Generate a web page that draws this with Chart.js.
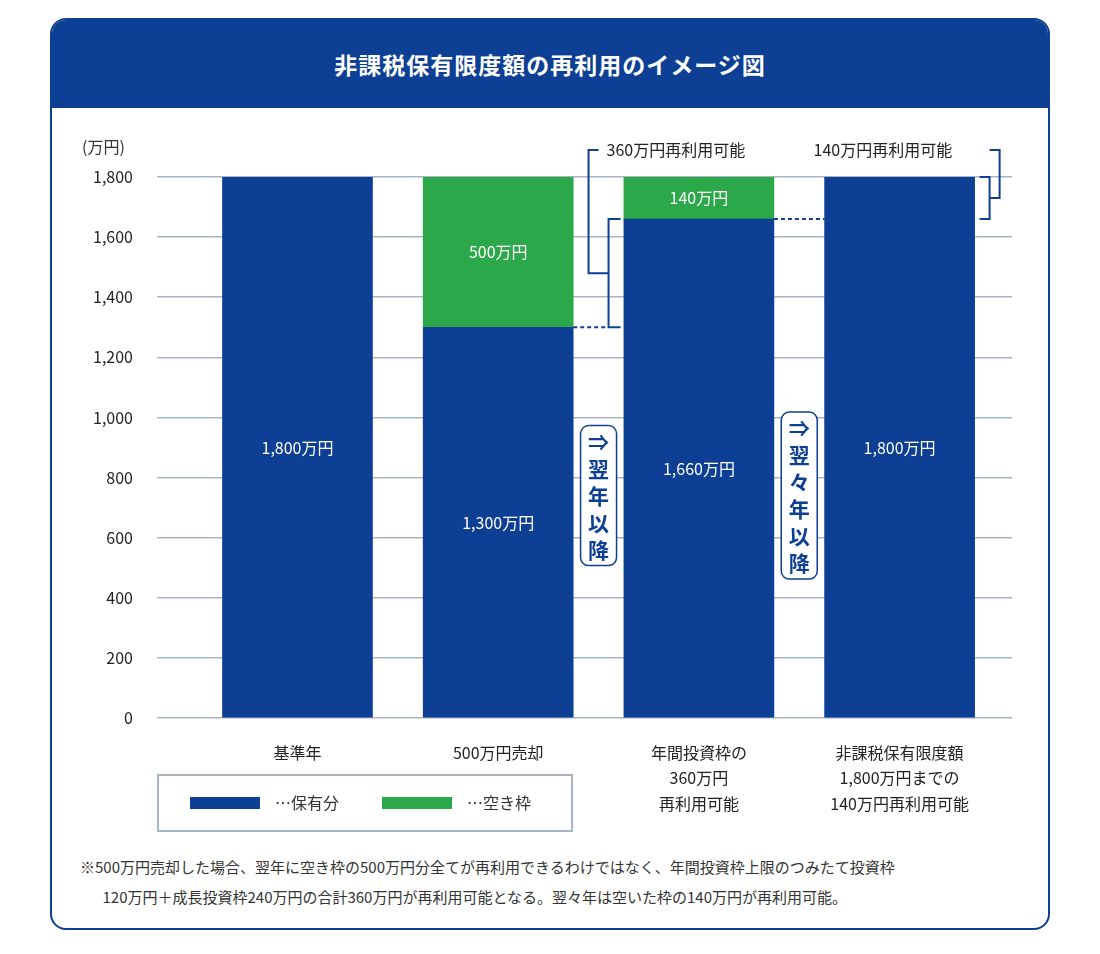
<!DOCTYPE html>
<html>
<head>
<meta charset="utf-8">
<style>
  body { margin:0; background:#fff; font-family:"Noto Sans CJK JP","Noto Sans",sans-serif; color:#333; }
  #card { position:absolute; left:50px; top:18px; width:996px; height:908px; border:2px solid #0d3f94; border-radius:16px; overflow:hidden; }
  #head { height:88px; background:#0d3f94; color:#fff; font-weight:bold; font-size:23px; text-align:center; line-height:88px; letter-spacing:1px; }
  #wrap { position:absolute; left:0; top:88px; width:1000px; height:730px; }
  #legend { position:absolute; left:105px; top:754px; width:412px; height:54px; border:2px solid #a9b3c6; font-size:16px; }
  .sw { position:absolute; top:21px; width:70px; height:12px; }
  .lt { position:absolute; top:14px; }
  #note { position:absolute; left:28px; top:832px; font-size:15px; line-height:30px; }
</style>
<script src="https://cdn.jsdelivr.net/npm/chart.js"></script>
</head>
<body>
<div id="card">
  <div id="head">非課税保有限度額の再利用のイメージ図</div>
  <div id="wrap"><canvas id="c" width="1000" height="730"></canvas></div>
  <div id="legend">
    <div class="sw" style="left:31px;background:#0d3f94"></div><div class="lt" style="left:116px">…保有分</div>
    <div class="sw" style="left:223px;background:#2ba84a"></div><div class="lt" style="left:308px">…空き枠</div>
  </div>
  <div id="note">※500万円売却した場合、翌年に空き枠の500万円分全てが再利用できるわけではなく、年間投資枠上限のつみたて投資枠<br>&emsp;&ensp;120万円＋成長投資枠240万円の合計360万円が再利用可能となる。翌々年は空いた枠の140万円が再利用可能。</div>
</div>
<script>
const categories = [['基準年'], ['500万円売却'], ['年間投資枠の', '360万円', '再利用可能'], ['非課税保有限度額', '1,800万円までの', '140万円再利用可能']];
const held = [1800, 1300, 1660, 1800];
const free = [0, 500, 140, 0];
const yTicks = [0, 200, 400, 600, 800, 1000, 1200, 1400, 1600, 1800];

const BLUE = '#0d3f94', GREEN = '#2ba84a', FONT = '"Noto Sans CJK JP","Noto Sans",sans-serif';

const extras = {
  id: 'extras',
  afterDatasetsDraw(chart) {
    const ctx = chart.ctx, x = chart.scales.x, y = chart.scales.y;
    const half = 75;
    ctx.save();
    // segment labels
    ctx.fillStyle = '#fff'; ctx.font = '16px ' + FONT; ctx.textAlign = 'center'; ctx.textBaseline = 'middle';
    held.forEach((v, i) => {
      ctx.fillText(v.toLocaleString('en-US') + '万円', x.getPixelForValue(i), y.getPixelForValue(v / 2));
      if (free[i]) ctx.fillText(free[i] + '万円', x.getPixelForValue(i), y.getPixelForValue(v + free[i] / 2));
    });
    ctx.strokeStyle = BLUE; ctx.lineWidth = 2;
    // dashed connectors
    ctx.setLineDash([4, 3]);
    ctx.beginPath();
    ctx.moveTo(x.getPixelForValue(1) + half, y.getPixelForValue(held[1])); ctx.lineTo(x.getPixelForValue(1.5) + 10, y.getPixelForValue(held[1]));
    ctx.moveTo(x.getPixelForValue(2) + half, y.getPixelForValue(held[2])); ctx.lineTo(x.getPixelForValue(3) - half, y.getPixelForValue(held[2]));
    ctx.stroke();
    ctx.setLineDash([]);
    const topY = y.getPixelForValue(1800) - 27;
    // bracket 1
    const bx = x.getPixelForValue(1.5) + 10, y1 = y.getPixelForValue(held[1]), y2 = y.getPixelForValue(held[2]), ym = (y1 + y2) / 2;
    ctx.beginPath();
    ctx.moveTo(bx + 12, y2); ctx.lineTo(bx, y2); ctx.lineTo(bx, y1); ctx.lineTo(bx + 12, y1);
    ctx.moveTo(bx, ym); ctx.lineTo(bx - 20, ym); ctx.lineTo(bx - 20, topY); ctx.lineTo(bx - 10, topY);
    ctx.stroke();
    // bracket 2
    const rx = x.getPixelForValue(3) + half + 15, r1 = y.getPixelForValue(1800), r2 = y.getPixelForValue(held[2]), rm = (r1 + r2) / 2;
    ctx.beginPath();
    ctx.moveTo(rx - 10, r1); ctx.lineTo(rx, r1); ctx.lineTo(rx, r2); ctx.lineTo(rx - 10, r2);
    ctx.moveTo(rx, rm); ctx.lineTo(rx + 10, rm); ctx.lineTo(rx + 10, topY); ctx.lineTo(rx, topY);
    ctx.stroke();
    ctx.fillStyle = '#222'; ctx.font = '16px ' + FONT; ctx.textAlign = 'left';
    ctx.fillText('360万円再利用可能', bx - 2, topY);
    ctx.fillText('140万円再利用可能', x.getPixelForValue(3) - 86, topY);
    // vertical arrow boxes
    [[1.5, '⇒翌年以降'], [2.5, '⇒翌々年以降']].forEach(([p, s]) => {
      const cx = x.getPixelForValue(p), cy = y.getPixelForValue(740), h = s.length * 27 + 5;
      ctx.fillStyle = '#fff';
      ctx.beginPath(); ctx.roundRect(cx - 18, cy - h / 2, 36, h, 8); ctx.fill(); ctx.lineWidth = 1.5; ctx.stroke();
      ctx.fillStyle = BLUE; ctx.font = 'bold 21px ' + FONT; ctx.textAlign = 'center';
      [...s].forEach((ch, k) => ctx.fillText(ch, cx, cy - h / 2 + 16 + k * 27));
    });
    ctx.restore();
  },
  afterDraw(chart) {
    const ctx = chart.ctx;
    ctx.save(); ctx.fillStyle = '#333'; ctx.font = '16px ' + FONT; ctx.textAlign = 'left'; ctx.textBaseline = 'middle';
    ctx.fillText('(万円)', 30, 39); ctx.restore();
  }
};

new Chart(document.getElementById('c'), {
  type: 'bar',
  data: {
    datasets: [
      { label: '保有分', data: held.map((v, i) => ({ x: i, y: v })), backgroundColor: BLUE, barThickness: 150 },
      { label: '空き枠', data: free.map((v, i) => ({ x: i, y: v })), backgroundColor: GREEN, barThickness: 150 }
    ]
  },
  options: {
    responsive: false, animation: false,
    layout: { padding: { top: 69, right: 40 } },
    plugins: { legend: { display: false }, tooltip: { enabled: false } },
    scales: {
      x: {
        type: 'linear', stacked: true, min: -0.7, max: 3.56, offset: false,
        afterBuildTicks: s => { s.ticks = categories.map((c, i) => ({ value: i })); },
        afterFit: s => { s.height = 120; },
        grid: { display: false }, border: { display: false },
        ticks: { callback: (v) => categories[v], color: '#222', font: { family: FONT, size: 16, lineHeight: 1.6 }, padding: 14, maxRotation: 0, autoSkip: false }
      },
      y: {
        stacked: true, min: 0, max: 1800,
        afterBuildTicks: s => { s.ticks = yTicks.map(v => ({ value: v })); },
        afterFit: s => { s.width = 105; },
        grid: { color: '#a9b3c6', lineWidth: 1.5, drawTicks: false }, border: { display: false },
        ticks: { color: '#222', font: { family: FONT, size: 16 }, padding: 24, callback: v => v.toLocaleString('en-US') }
      }
    }
  },
  plugins: [extras]
});
</script>
</body>
</html>
